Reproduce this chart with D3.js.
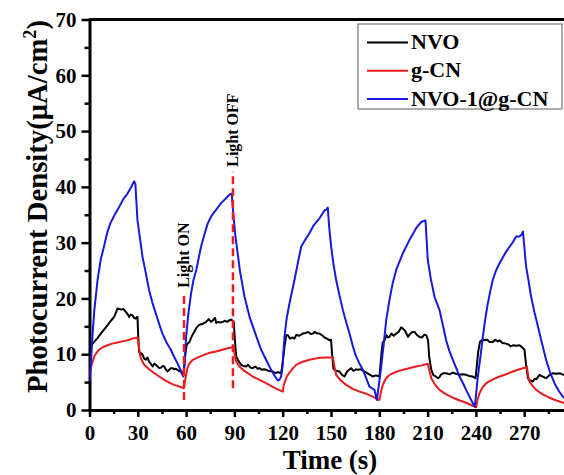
<!DOCTYPE html>
<html>
<head>
<meta charset="utf-8">
<script src="https://cdn.jsdelivr.net/npm/d3@7"></script>
<style>
  body { margin: 0; background: #fff; }
  svg text { font-family: "Liberation Serif", "Times New Roman", serif; font-weight: bold; fill: #000; }
</style>
</head>
<body>
<svg id="chart" width="564" height="475"></svg>
<script>
// photocurrent (time in s, density in uA/cm2)
const nvoT = [0,0.8,2.9,5,7,9,11.2,13.3,15.3,16.5,17.4,19.5,21,22.6,23.6,24.6,25.6,26.7,27.7,28.7,29.8,30.3,30.8,32,32.9,34,35,36,37,38,39.2,40.2,41.2,42.3,43.3,44.5,45.5,46.4,47.4,48.4,49.5,50.5,51.6,52.6,53.6,54.6,55.7,56.7,57.7,58.5,59.6,60.5,62.1,63.5,65,66.5,68.3,70,72.5,74,75.5,76.6,78,78.7,80,81.5,82.8,84,85.5,87,88,89.6,90.2,91.1,92.5,94.2,95.5,97.3,98.5,100,101.4,103,104.5,105.6,107,108.5,109.7,111.5,113.8,115.5,117,119,119.8,121.1,122.2,123.2,124.5,126,127.3,128.5,130,132.5,134,136,137.5,138.7,140,141.5,142.9,144.5,146,147.5,149.1,150,150.7,151.5,152.2,153.5,155.3,156.8,158.4,160,161.2,162.5,164,165.5,166.6,168.5,170.8,172.5,174.3,176,178,180.1,181,182,183.2,184.5,185.5,186.3,187.5,189,190.5,192,193.5,194.6,196,197.8,199,200.5,201.9,203.5,205,206.5,208,209.2,210.3,211,212.3,213.5,215,216.4,217.4,218.5,220,221.5,223.5,225.7,227.5,229.8,232,233.9,236,238.1,239.8,240.6,241.4,242.5,244,245.3,247,248.5,250.5,252,253.5,254.7,256.5,258.8,260.5,261.5,263,265,267.1,268.5,270.2,271,272.3,273.5,275.4,276.5,277.5,279.5,281.5,283.6,285.5,287.8,290,292,294.4,296];
const nvoV = [8.5,11.5,12.2,12.9,13.7,14.4,15.2,16.0,16.7,17.5,18.2,18.0,18.1,17.6,17.2,16.7,17.1,17.0,16.5,16.4,16.7,13,10.4,10.2,9.9,9.2,9.0,9.4,8.7,8.3,7.8,8.3,8.1,7.8,7.5,7.6,7.9,7.8,7.3,6.9,7.2,7.5,7.5,7.3,7.4,7.2,7.0,6.9,6.6,6.8,10.2,11.8,12.2,13.2,14.0,14.8,15.3,15.4,15.8,16.3,15.8,16.1,16.5,15.6,15.8,15.7,15.8,16.0,15.8,16.1,16.2,15.8,13,9.6,8.8,8.1,7.9,7.8,8.1,7.6,7.5,7.8,7.4,7.5,7.2,7.3,7.2,7.0,6.9,6.6,6.8,6.6,8,11.3,13.4,13.4,12.8,13.0,12.8,13.5,13.3,13.7,13.8,14.0,13.6,13.7,14.0,13.7,13.7,13.4,13.0,12.8,12.5,12.6,10,7.4,7.2,7.0,6.9,6.3,6.0,6.9,7.2,7.5,7.0,7.3,7.2,7.3,6.9,6.6,6.3,6.0,6.2,6.0,9,12.0,12.5,13.4,13.0,13.1,13.7,13.3,13.7,14.0,14.8,14.6,14.2,13.1,13.6,14.0,14.0,13.4,13.1,13.0,13.5,13.4,12.5,9.5,7.2,6.3,6.0,5.7,5.9,6.4,6.6,6.6,6.4,6.7,6.5,6.3,6.4,6.3,6.1,6.0,5.7,8,10.4,12.2,12.6,12.5,12.6,12.2,12.2,12.6,12.3,12.5,12.0,11.9,11.7,11.4,11.6,11.5,11.6,11.3,10.8,8.5,5.7,5.3,5.1,5.6,5.5,6.3,6.0,5.7,6.2,6.6,6.5,6.6,6.3,6.2];

const gcnT = [0,1,2.9,4.5,5.9,8.5,11.2,14,17.4,20.5,23.6,26.8,29.8,30.5,31.5,32.7,34,37,40.2,43.3,46.4,49.5,52.6,55.7,58.6,59.5,61.1,62.5,64.2,67,70.4,74,78.7,83.5,88,89.5,90.2,91.1,92.8,95.3,98.3,101.4,105.5,109.7,113.5,117,120,120.7,122.5,125,128.3,132,136.6,141.8,146.5,151.2,152,153.2,156,159.4,163.5,167.7,172,176,178.5,180.1,181,182.2,184,186.3,190,194.6,198.5,202.9,206.5,210.1,211,212.3,214.5,217.4,221.5,225.7,230,233.9,237,240.2,241,242.2,244,246.4,250.5,254.7,258.8,263,267,270.5,271.6,272.3,272.8,275,277.4,281.5,285.7,290,294.4,296];
const gcnV = [6.2,7.8,9.6,10.3,10.8,11.3,11.6,11.9,12.1,12.3,12.5,12.8,13.0,11.8,9.6,8.8,8.1,7.3,6.6,6.0,5.4,4.9,4.5,4.2,3.9,5.5,7.8,8.5,9.0,9.4,9.8,10.2,10.5,10.9,11.2,11.3,10.0,8.7,7.9,7.2,6.6,6.0,5.4,4.8,4.2,3.7,3.3,4.5,6.0,7.0,8.1,8.6,9.0,9.3,9.4,9.4,8.0,6.3,5.3,4.5,3.8,3.3,2.9,2.4,2.0,1.8,3.2,4.5,5.6,6.3,6.8,7.2,7.5,7.8,8.0,8.3,7.2,5.7,4.6,3.6,2.8,2.2,1.7,1.3,0.9,0.5,1.8,3.0,4.0,4.8,5.5,6.0,6.4,6.9,7.3,7.6,7.8,6.5,5.4,4.4,3.6,2.8,2.2,1.7,1.3,1.1];

const hybT = [0,1,2,3,5,7,9,11,13,16,18.4,21,23.6,26,27.7,28.5,29.8,31.5,32.9,35,37,39,41.2,43.3,45.3,48,50.5,52.6,54.6,56.5,57.7,58.3,59,60,61.5,63.1,64.5,66.3,68,69.3,71.5,73.5,76,78.7,81,82.8,85,86.9,88.3,89.4,90.5,93.5,96.3,99.4,103.5,106.6,109.7,112.8,115.9,117,118,119,119.7,121.1,122.5,124.2,127.3,129.5,131.5,134,136.6,139,141.8,143,146,147,148,148.8,150.1,151.5,153.2,155.3,157.4,159.5,161.5,163.5,165.6,167.7,169.8,171.5,173.9,175.5,177,178.5,179.3,181.2,182.8,184.3,186.3,188.3,190.5,194.6,198.8,202.9,206,208.7,209.3,210.1,212,214.3,217.4,219.5,221.5,223.5,225.7,227.8,229.8,232,233.9,236,238.1,239.3,240,241.2,242.8,244.3,245.8,247.4,249,250.5,252.5,254.7,256.8,258.8,261,263,265,267.1,268.5,269.2,270,271.2,272.8,274.3,276.4,278.5,281,283.6,286,288.8,291.5,294,296];
const hybV = [5.0,9,14,17.9,23.3,27,29.3,31.8,33.5,35.2,36.4,37.8,38.8,40.0,41.0,40.5,34.0,30.5,27.5,24.5,21.5,19.3,17.3,15.4,13.7,12.0,10.8,9.5,8.4,7.2,6.3,6.0,8,13.1,17.5,20.9,23.2,25.1,27.5,29.3,31.6,33.5,34.9,35.9,36.8,37.4,38.0,38.6,38.8,35,31.5,24.8,20.3,16.7,13.3,10.8,9.0,7.2,5.7,5.3,5.4,6.0,7.2,13.1,16.5,19.1,23.3,26.5,29.3,30.5,31.7,33,34.0,34.4,35.8,35.9,36.3,33,29.3,26.2,23.3,20.5,17.9,15.7,13.7,11.5,9.6,8.3,7.2,6.0,4.2,3.9,3.6,1.8,3.5,7.8,12,16.1,19.7,22.7,25.1,28.1,30.5,32.6,33.7,34.0,31,26.9,23.5,20.3,17.9,15.2,12.5,10.6,9.0,7.5,6.0,4.8,3.6,2.4,1.2,0.6,2.5,6.0,9.5,13.1,16.3,19.1,21.4,23.3,25.0,26.3,27.4,28.4,29.3,30.1,31.1,31.1,31.5,32.0,29.5,25.7,23,20.3,17.5,15.0,12,9.0,6.8,4.8,3.4,2.4,1.8];

const seriesNames = ["NVO", "g-CN", "NVO-1@g-CN"];
const seriesColors = ["#000000", "#e81c1c", "#1818dc"];

const xMajor = [0,30,60,90,120,150,180,210,240,270];
const xMinor = [15,45,75,105,135,165,195,225,255,285];
const yMajor = [0,10,20,30,40,50,60,70];
const yMinor = [5,15,25,35,45,55,65];

// light switching marks: [time, bottom value, top value]
const lightOn = [58.7, 1.8, 21];
const lightOff = [89.1, 3.9, 42.7];

const svg = d3.select("#chart");
const x = d3.scaleLinear().domain([0, 300]).range([89.5, 572.5]);
const y = d3.scaleLinear().domain([0, 70]).range([410, 19.5]);

svg.append("defs").append("clipPath").attr("id", "plotclip")
  .append("rect").attr("x", x(0)).attr("y", y(70)).attr("width", x(300) - x(0)).attr("height", y(0) - y(70));

// minor ticks first
svg.append("g").attr("transform", "translate(0," + y(0) + ")")
  .call(d3.axisBottom(x).tickValues(xMinor).tickSize(4).tickFormat(""))
  .call(g => g.select(".domain").remove());
svg.append("g").attr("transform", "translate(" + x(0) + ",0)")
  .call(d3.axisLeft(y).tickValues(yMinor).tickSize(5).tickFormat(""))
  .call(g => g.select(".domain").remove());

var xAxis = svg.append("g").attr("transform", "translate(0," + y(0) + ")")
  .call(d3.axisBottom(x).tickValues(xMajor).tickSize(7).tickSizeOuter(0).tickPadding(8));
var yAxis = svg.append("g").attr("transform", "translate(" + x(0) + ",0)")
  .call(d3.axisLeft(y).tickValues(yMajor).tickSize(8).tickSizeOuter(0).tickPadding(5));

svg.selectAll(".tick line").attr("stroke", "#000").attr("stroke-width", 2.5);
svg.selectAll(".domain").attr("stroke", "#000").attr("stroke-width", 3).attr("stroke-linecap", "square");
svg.selectAll(".tick text").style("font-size", "21px").style("font-family", "'Liberation Serif', 'Times New Roman', serif").style("font-weight", "bold");

// top frame
svg.append("line").attr("x1", x(0)).attr("x2", x(300)).attr("y1", y(70)).attr("y2", y(70))
  .attr("stroke", "#000").attr("stroke-width", 3);

// series
const line = d3.line().x(d => x(d[0])).y(d => y(d[1]));
const allSeries = [d3.zip(nvoT, nvoV), d3.zip(gcnT, gcnV), d3.zip(hybT, hybV)];
const plot = svg.append("g").attr("clip-path", "url(#plotclip)");
allSeries.forEach(function (s, i) {
  plot.append("path").datum(s).attr("d", line)
    .attr("fill", "none").attr("stroke", seriesColors[i]).attr("stroke-width", 2)
    .attr("stroke-linejoin", "round");
});

// light on / off markers
[[lightOn, "Light ON"], [lightOff, "Light OFF"]].forEach(function (m) {
  var a = m[0];
  svg.append("line").attr("x1", x(a[0])).attr("x2", x(a[0])).attr("y1", y(a[1])).attr("y2", y(a[2]))
    .attr("stroke", "#f01c1c").attr("stroke-width", 2.5).attr("stroke-dasharray", "8,4");
  svg.append("text")
    .attr("transform", "translate(" + (x(a[0]) + 5) + "," + (y(a[2]) - 5) + ") rotate(-90)")
    .style("font-size", "16px")
    .text(m[1]);
});

// legend
var lg = svg.append("g");
lg.append("rect").attr("x", 358).attr("y", 24).attr("width", 204).attr("height", 85)
  .attr("fill", "#fff").attr("stroke", "#777").attr("stroke-width", 1.2);
seriesNames.forEach(function (n, i) {
  var yy = 42.5 + i * 28.3;
  lg.append("line").attr("x1", 367).attr("x2", 408).attr("y1", yy).attr("y2", yy)
    .attr("stroke", seriesColors[i]).attr("stroke-width", 2);
  lg.append("text").attr("x", 411).attr("y", yy + 6.5).style("font-size", "22px").text(n);
});

// axis titles
svg.append("text").attr("x", 330).attr("y", 469).attr("text-anchor", "middle")
  .style("font-size", "27px").text("Time (s)");
var yt = svg.append("text")
  .attr("transform", "translate(47,206.5) rotate(-90)")
  .attr("text-anchor", "middle")
  .style("font-size", "30px")
  .attr("textLength", 373).attr("lengthAdjust", "spacingAndGlyphs");
yt.append("tspan").text("Photocurrent Density(\u03bcA/cm");
yt.append("tspan").attr("dy", -11).style("font-size", "19px").text("2");
yt.append("tspan").attr("dy", 11).text(")");
</script>
</body>
</html>
